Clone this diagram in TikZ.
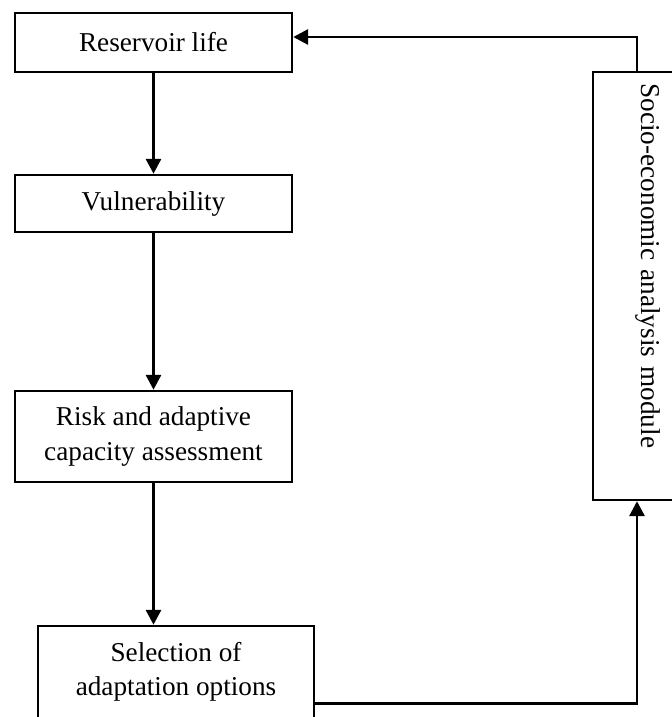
\documentclass[tikz,border=0pt]{standalone}
\usepackage{fontspec}
\setmainfont{Liberation Serif}
\usetikzlibrary{arrows.meta}
\begin{document}
\begin{tikzpicture}[x=0.02cm, y=-0.02cm]
  \tikzstyle{box}=[rectangle, draw, line width=1.4pt, minimum width=5.54cm, inner sep=2pt, align=center, font=\fontsize{15.5}{19.5}\selectfont]
  \tikzstyle{edge}=[-{Triangle[length=3mm, width=3mm]}, line width=1.7pt]

  \useasboundingbox (0,0) rectangle (672,717);
  \clip (0,0) rectangle (672,717);

  \node[box, minimum height=1.18cm] (res) at (153.5, 42.5) {Reservoir life};
  \node[box, minimum height=1.14cm] (vul) at (153.5, 203.5) {Vulnerability};
  \node[box, minimum height=1.82cm] (risk) at (153.5, 436.5) {Risk and adaptive\\capacity assessment};
  \node[box, minimum width=5.52cm, minimum height=1.84cm] (sel) at (176, 672) {Selection of\\adaptation options};
  \node[box, rotate=-90, minimum width=8.56cm, minimum height=2.2cm, text width=8.1cm, align=left] (soc) at (648, 286) {Socio-economic analysis module};

  \coordinate (top) at (637, 37);
  \coordinate (bot) at (637, 703);

  \path[edge] (res) edge (vul);
  \path[edge] (vul) edge (risk);
  \draw[edge] (risk.south) -- (risk.south |- sel.north);
  \draw[edge] (sel.east |- bot) -- (bot) -- (bot |- soc.east);
  \draw[edge] (top |- soc.west) -- (top) -- (res.east |- top);
\end{tikzpicture}
\end{document}
